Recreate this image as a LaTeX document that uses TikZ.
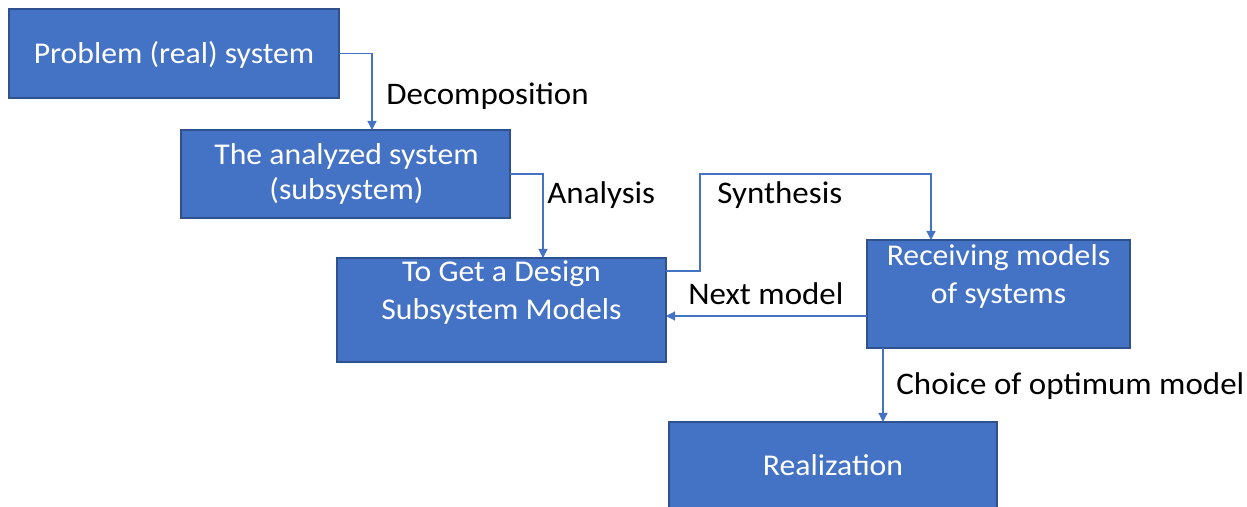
\documentclass[tikz,border=0pt]{standalone}
\usepackage{fontspec}
\setmainfont{Carlito}[FakeStretch=1.05]
\usetikzlibrary{arrows.meta,calc}
\definecolor{boxfill}{HTML}{4472C4}
\definecolor{boxline}{HTML}{2F528F}
\definecolor{conncol}{HTML}{4472C4}
\begin{document}
\begin{tikzpicture}[x=0.5pt,y=-0.5pt,
  box/.style={draw=boxline, fill=boxfill, line width=0.6pt, inner sep=0, outer sep=0},
  boxtext/.style={text=white, font=\fontsize{15.1}{18}\selectfont, inner sep=0, anchor=base},
  lbl/.style={text=black, font=\fontsize{15.7}{19}\selectfont, inner sep=0, anchor=base west},
  conn/.style={draw=conncol, line width=0.6pt, -{Triangle[length=4.5pt,width=4.5pt]}}]
\fill[white] (0,0) rectangle (1247,507);
\useasboundingbox (0,0) rectangle (1247,507);

\node[box, minimum width=165pt, minimum height=44.5pt] (b1) at (174,53.5) {};
\node[box, minimum width=164.5pt, minimum height=44pt] (b2) at (345.5,174) {};
\node[box, minimum width=164.5pt, minimum height=52pt] (b3) at (501.5,310) {};
\node[box, minimum width=131.5pt, minimum height=54pt] (b4) at (998.5,294) {};
\node[box, minimum width=164pt, minimum height=45pt] (b5) at (833,467) {};

\node[boxtext] (t1) at (174,63.5) {Problem (real) system};
\node[boxtext] (t2a) at (346.5,165) {The analyzed system};
\node[boxtext] (t2b) at (346.5,199.5) {(subsystem)};
\node[boxtext] (t3a) at (501.5,281.5) {To Get a Design};
\node[boxtext] (t3b) at (501.5,320) {Subsystem Models};
\node[boxtext] (t4a) at (998.5,266) {Receiving models};
\node[boxtext] (t4b) at (998.5,303.5) {of systems};
\node[boxtext] (t5) at (833,475) {Realization};

\node[lbl] (l1) at (386,105) {Decomposition};
\node[lbl] (l2) at (547,204) {Analysis};
\node[lbl] (l3) at (717,204) {Synthesis};
\node[lbl] (l4) at (688,304.5) {Next model};
\node[lbl] (l5) at (896,394.5) {Choice of optimum model};

\coordinate (k1) at (372,0);
\coordinate (k2) at (543,0);
\coordinate (k3) at (700,174);
\coordinate (k4) at (931,0);
\coordinate (k5) at (0,316);
\coordinate (k6) at (883,0);

\draw[conn] (b1.east) -| (k1 |- b2.north);
\draw[conn] (b2.east) -| (k2 |- b3.north);
\draw[conn] ($(b3.north east)+(0,13)$) -| (k3) -| (k4 |- b4.north);
\draw[conn] (b4.west |- k5) -- (b3.east |- k5);
\draw[conn] (b4.south -| k6) -- (b5.north -| k6);
\end{tikzpicture}
\end{document}
